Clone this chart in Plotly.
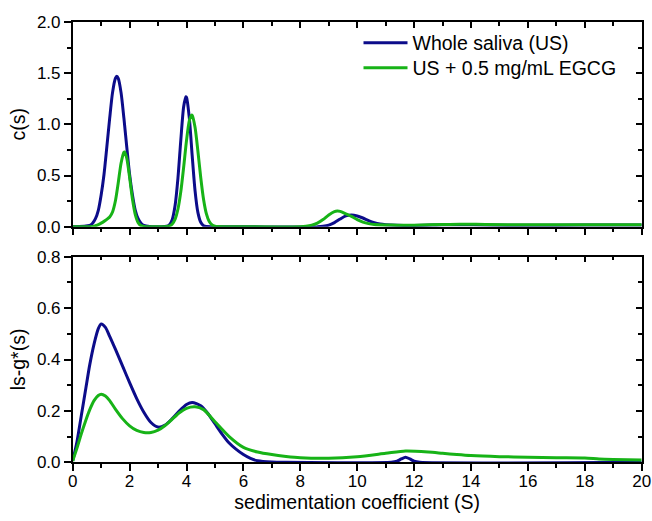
import plotly.graph_objects as go

# ---------------- data ----------------
# Top panel: c(s)
s_top_ws = [0, 0.6, 0.7, 0.8, 0.9, 1.0, 1.1, 1.2, 1.3, 1.4, 1.5, 1.55, 1.6, 1.7, 1.8, 1.9, 2.0, 2.1, 2.2, 2.3,
            2.4, 2.5, 2.7, 3.1, 3.3, 3.4, 3.5, 3.6, 3.7, 3.8, 3.9, 3.98, 4.0, 4.1, 4.2, 4.3, 4.4, 4.5, 4.6, 4.7,
            4.9, 8.6, 8.8, 9.0, 9.2, 9.4, 9.6, 9.8, 10.0, 10.2, 10.4, 10.6, 10.8, 11.0, 11.4, 12, 13, 13.6,
            14.5, 16, 18, 20]
c_ws = [0, 0.012, 0.034, 0.078, 0.16, 0.31, 0.51, 0.78, 1.06, 1.31, 1.45, 1.47, 1.45, 1.31, 1.06, 0.78, 0.51,
        0.31, 0.16, 0.078, 0.034, 0.012, 0.001, 0, 0.004, 0.019, 0.071, 0.209, 0.477, 0.847, 1.172, 1.27, 1.264,
        1.061, 0.694, 0.353, 0.14, 0.043, 0.01, 0.002, 0, 0, 0.004, 0.015, 0.04, 0.075, 0.105, 0.114, 0.105,
        0.085, 0.06, 0.04, 0.027, 0.02, 0.014, 0.012, 0.018, 0.02, 0.017, 0.014, 0.016, 0.017]

s_top_eg = [0, 0.7, 0.8, 0.9, 1.0, 1.1, 1.2, 1.3, 1.4, 1.5, 1.6, 1.7, 1.8, 1.82, 1.9, 2.0, 2.1, 2.2, 2.3, 2.4,
            2.5, 2.7, 3.2, 3.4, 3.5, 3.6, 3.7, 3.8, 3.9, 4.0, 4.1, 4.18, 4.2, 4.3, 4.4, 4.5, 4.6, 4.7, 4.8, 4.9,
            5.0, 5.1, 5.4, 8.0, 8.2, 8.4, 8.6, 8.8, 9.0, 9.2, 9.3, 9.4, 9.6, 9.8, 10.0, 10.2, 10.4, 10.6, 11.0,
            11.4, 12, 13, 13.6, 14.5, 16, 18, 20]
c_eg = [0, 0.002, 0.01, 0.02, 0.035, 0.052, 0.071, 0.095, 0.144, 0.251, 0.427, 0.62, 0.728, 0.73, 0.669, 0.482,
        0.27, 0.118, 0.04, 0.011, 0.003, 0, 0, 0.008, 0.027, 0.074, 0.173, 0.343, 0.582, 0.841, 1.036, 1.09,
        1.087, 0.971, 0.74, 0.481, 0.266, 0.125, 0.05, 0.017, 0.005, 0.001, 0, 0, 0.005, 0.015, 0.035, 0.07,
        0.115, 0.148, 0.153, 0.15, 0.125, 0.1, 0.07, 0.045, 0.03, 0.022, 0.017, 0.015, 0.015, 0.022, 0.025,
        0.022, 0.018, 0.02, 0.02]

# Bottom panel: ls-g*(s)
s_bot_ws = [0, 0.15, 0.3, 0.45, 0.6, 0.75, 0.9, 1.0, 1.15, 1.3, 1.5, 1.75, 2.0, 2.25, 2.5, 2.75, 3.0, 3.25, 3.5,
            3.75, 4.0, 4.2, 4.5, 4.75, 5.0, 5.25, 5.5, 5.75, 6.0, 6.25, 6.5, 7.0, 7.5, 11.2, 11.4, 11.55, 11.7,
            11.85, 12.0, 12.2, 20]
g_ws = [0.005, 0.08, 0.18, 0.28, 0.38, 0.46, 0.52, 0.538, 0.525, 0.49, 0.44, 0.375, 0.31, 0.248, 0.195, 0.155,
        0.137, 0.145, 0.17, 0.2, 0.225, 0.233, 0.22, 0.19, 0.15, 0.11, 0.075, 0.05, 0.03, 0.015, 0.006, 0.001,
        0, 0, 0.004, 0.013, 0.02, 0.013, 0.004, 0, 0]

s_bot_eg = [0, 0.15, 0.3, 0.45, 0.6, 0.75, 0.9, 1.0, 1.15, 1.3, 1.5, 1.75, 2.0, 2.25, 2.5, 2.75, 3.0, 3.25, 3.5,
            3.75, 4.0, 4.3, 4.6, 5.0, 5.5, 6.0, 6.5, 7.0, 7.5, 8.0, 9.0, 10, 11, 11.7, 12.5, 13, 13.5, 14, 15,
            16, 17, 18, 18.5, 19, 20]
g_eg = [0.005, 0.055, 0.11, 0.16, 0.205, 0.24, 0.26, 0.265, 0.258, 0.24, 0.207, 0.17, 0.142, 0.124, 0.116,
        0.116, 0.125, 0.143, 0.168, 0.193, 0.21, 0.216, 0.205, 0.158, 0.1, 0.058, 0.04, 0.03, 0.023, 0.018,
        0.016, 0.022, 0.035, 0.044, 0.04, 0.035, 0.03, 0.026, 0.022, 0.02, 0.018, 0.017, 0.013, 0.011, 0.009]

names = ["Whole saliva (US)", "US + 0.5 mg/mL EGCG"]
colors = ["#0c0c8a", "#17b317"]

x_ticks = [0, 2, 4, 6, 8, 10, 12, 14, 16, 18, 20]
top_y_ticks = [0.0, 0.5, 1.0, 1.5, 2.0]
bot_y_ticks = [0.0, 0.2, 0.4, 0.6, 0.8]

FONT = "Arial, Liberation Sans, sans-serif"

fig = go.Figure()
series = [
    (s_top_ws, c_ws, "x", "y", 0, "legend"),
    (s_top_eg, c_eg, "x", "y", 1, "legend2"),
    (s_bot_ws, g_ws, "x2", "y2", 0, None),
    (s_bot_eg, g_eg, "x2", "y2", 1, None),
]
for xs, ys, xa, ya, k, leg in series:
    kw = dict(showlegend=leg is not None)
    if leg:
        kw["legend"] = leg
    fig.add_trace(go.Scatter(x=xs, y=ys, xaxis=xa, yaxis=ya, mode="lines", name=names[k],
                             line=dict(color=colors[k], width=3, shape="spline", smoothing=0.7), **kw))

# empty helper traces so the mirrored frame axes (top / right, ticks inside) get drawn
for xa, ya in [("x3", "y3"), ("x4", "y4")]:
    fig.add_trace(go.Scatter(x=[], y=[], xaxis=xa, yaxis=ya, mode="lines", showlegend=False,
                             hoverinfo="skip"))

W, H = 652, 521
xdom = [72.7 / W, 641.7 / W]
top_dom = [(H - 226.7) / H, (H - 22) / H]
bot_dom = [(H - 462.3) / H, (H - 256.7) / H]

TICKFONT = dict(family=FONT, size=17, color="black")
axis_common = dict(showline=True, linecolor="black", linewidth=1.5, ticks="outside", ticklen=7,
                   tickwidth=1.5, tickcolor="black", showgrid=False, zeroline=False, tickfont=TICKFONT,
                   automargin=False)
minor_out = dict(ticks="outside", ticklen=4, tickwidth=1.5, tickcolor="black", showgrid=False)
minor_in = dict(ticks="inside", ticklen=4, tickwidth=1.5, tickcolor="black", showgrid=False)
frame_common = dict(showline=True, linecolor="black", linewidth=1.5, ticks="inside", ticklen=6,
                    tickwidth=1.5, tickcolor="black", showgrid=False, zeroline=False,
                    showticklabels=False, automargin=False)
TITLEFONT = dict(family=FONT, size=19.5, color="black")
LEGFONT = dict(family=FONT, size=19.5, color="black")

fig.update_layout(
    width=W, height=H, margin=dict(l=0, r=0, t=0, b=0, autoexpand=False),
    paper_bgcolor="white", plot_bgcolor="white",
    font=dict(family=FONT, color="black"),
    xaxis=dict(domain=xdom, anchor="y", range=[0, 20], tickvals=x_ticks, showticklabels=False,
               minor=dict(dtick=1, **minor_out), **axis_common),
    yaxis=dict(domain=top_dom, anchor="x", range=[0, 2], tickvals=top_y_ticks,
               ticktext=[f"{v:.1f}" for v in top_y_ticks],
               minor=dict(dtick=0.25, **minor_out),
               title=dict(text="c(s)", font=TITLEFONT, standoff=6), **axis_common),
    xaxis2=dict(domain=xdom, anchor="y2", range=[0, 20], tickvals=x_ticks, ticklabelstandoff=-4,
                minor=dict(dtick=1, **minor_out),
                title=dict(text="sedimentation coefficient (S)", font=TITLEFONT, standoff=0),
                **axis_common),
    yaxis2=dict(domain=bot_dom, anchor="x2", range=[0, 0.8], tickvals=bot_y_ticks,
                ticktext=[f"{v:.1f}" for v in bot_y_ticks],
                minor=dict(dtick=0.1, **minor_out),
                title=dict(text="ls-g*(s)", font=TITLEFONT, standoff=6), **axis_common),
    xaxis3=dict(domain=xdom, anchor="y3", overlaying="x", side="top", range=[0, 20], tickvals=x_ticks,
                minor=dict(dtick=1, **minor_in), **frame_common),
    yaxis3=dict(domain=top_dom, anchor="x3", overlaying="y", side="right", range=[0, 2],
                tickvals=top_y_ticks, minor=dict(dtick=0.25, **minor_in), **frame_common),
    xaxis4=dict(domain=xdom, anchor="y4", overlaying="x2", side="top", range=[0, 20], tickvals=x_ticks,
                minor=dict(dtick=1, **minor_in), **frame_common),
    yaxis4=dict(domain=bot_dom, anchor="x4", overlaying="y2", side="right", range=[0, 0.8],
                tickvals=bot_y_ticks, minor=dict(dtick=0.1, **minor_in), **frame_common),
    legend=dict(x=358.5 / W, y=(H - 43) / H, xanchor="left", yanchor="middle", bgcolor="rgba(0,0,0,0)",
                font=LEGFONT, itemwidth=44, borderwidth=0),
    legend2=dict(x=358.5 / W, y=(H - 68) / H, xanchor="left", yanchor="middle", bgcolor="rgba(0,0,0,0)",
                 font=LEGFONT, itemwidth=44, borderwidth=0),
)

fig.write_html("out.html")
